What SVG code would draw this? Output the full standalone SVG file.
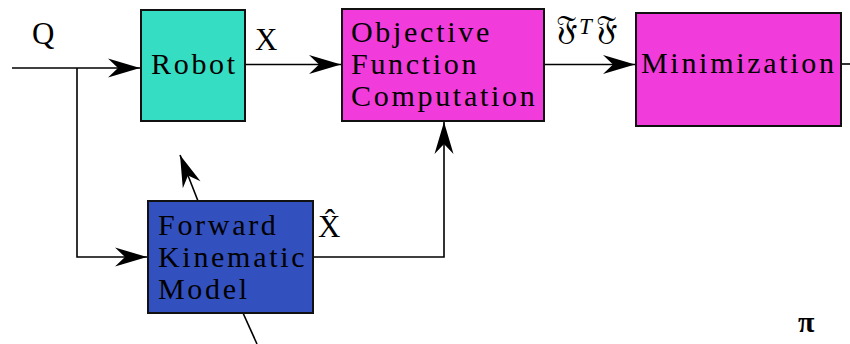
<svg xmlns="http://www.w3.org/2000/svg" width="850" height="344" viewBox="0 0 850 344">
<style>
.box{stroke:#111;stroke-width:2}
.lbl{font-family:"Liberation Serif","Times New Roman",serif;font-size:30px;letter-spacing:2.7px;fill:#000}
.sym{font-family:"Liberation Serif","Times New Roman",serif;fill:#000}
.ln{fill:none;stroke:#000;stroke-width:1.6}
</style>
<defs>
<marker id="ah" markerUnits="userSpaceOnUse" markerWidth="40" markerHeight="24" viewBox="-34 -12 36 24" refX="0" refY="0" orient="auto">
<path d="M0,0 L-32,-9.5 L-22,0 L-32,9.5 Z" fill="#000"/>
</marker>
</defs>
<rect width="850" height="344" fill="#fff"/>
<g id="connectors">
<path class="ln" d="M12,68 H140" marker-end="url(#ah)"/>
<path class="ln" d="M77,68 V257 H147" marker-end="url(#ah)"/>
<path class="ln" d="M245,64.5 H341" marker-end="url(#ah)"/>
<path class="ln" d="M544,64.5 H635" marker-end="url(#ah)"/>
<path class="ln" d="M841,64 H850"/>
<path class="ln" d="M313,257 H444 V122" marker-end="url(#ah)"/>
<path class="ln" d="M198,201 L180,155" marker-end="url(#ah)"/>
<path class="ln" d="M243,313 L257,344"/>
</g>
<g id="robot">
<rect class="box" x="141" y="10" width="104" height="111" fill="#35DEC2"/>
<text class="lbl" x="151" y="74">Robot</text>
</g>
<g id="objective">
<rect class="box" x="342" y="9" width="202" height="112" fill="#F23BDB"/>
<text class="lbl" x="351" y="42">Objective</text>
<text class="lbl" x="351" y="74">Function</text>
<text class="lbl" x="351" y="106">Computation</text>
</g>
<g id="minimization">
<rect class="box" x="636" y="13" width="205" height="113" fill="#F23BDB"/>
<text class="lbl" x="641" y="73">Minimization</text>
</g>
<g id="fk">
<rect class="box" x="148" y="201" width="165" height="112" fill="#3350BF"/>
<text class="lbl" x="158" y="235">Forward</text>
<text class="lbl" x="158" y="267">Kinematic</text>
<text class="lbl" x="158" y="299">Model</text>
</g>
<g id="labels">
<text class="sym" x="32" y="44" font-size="31">Q</text>
<text class="sym" x="255" y="50" font-size="31">X</text>
<text class="sym" x="318" y="237" font-size="31">X̂</text>
<text class="sym" x="556" y="39" font-size="34" font-family="'DejaVu Serif','DejaVu Sans',serif">𝔉</text>
<text class="sym" x="579" y="34" font-size="23" font-style="italic">T</text>
<text class="sym" x="596" y="39" font-size="34" font-family="'DejaVu Serif','DejaVu Sans',serif">𝔉</text>
<text class="sym" x="798" y="332" font-size="30" font-weight="bold">π</text>
</g>
</svg>
